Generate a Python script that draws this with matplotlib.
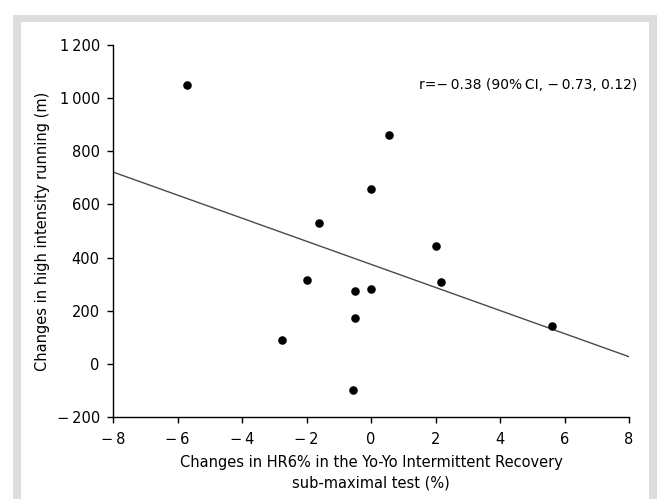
import matplotlib
matplotlib.use("Agg")
import matplotlib.pyplot as plt
from matplotlib import font_manager
from matplotlib.patches import Rectangle
from matplotlib.ticker import FuncFormatter

# data
hr_change = [-5.7, -1.6, -2.0, -0.5, 0.0, -0.5, -2.76, -0.55, 0.55, 0.0, 2.0, 2.18, 5.6]
hir_change = [1050, 531, 315, 273, 283, 174, 89, -97, 860, 658, 444, 309, 142]
fit_x = [-8, 8]
fit_y = [722, 27]
x_ticks = [-8, -6, -4, -2, 0, 2, 4, 6, 8]
y_ticks = [-200, 0, 200, 400, 600, 800, 1000, 1200]
note = "r=\u2212\u20090.38 (90%\u2009CI, \u2212\u20090.73, 0.12)"

installed = {f.name for f in font_manager.fontManager.ttflist}
fam = "Liberation Sans Narrow" if "Liberation Sans Narrow" in installed else "DejaVu Sans"
plt.rcParams["font.family"] = [fam, "DejaVu Sans"]
plt.rcParams["font.size"] = 10.5

W, H = 657, 499
fig = plt.figure(figsize=(W / 100, H / 100), dpi=100)

# grey frame around the white panel
fig.patches.append(Rectangle((13 / W, 0), 1 - 13 / W, 1 - 15 / H,
                             transform=fig.transFigure, facecolor="#dddddd",
                             edgecolor="none", zorder=-2))
fig.patches.append(Rectangle((21 / W, 0), (649 - 21) / W, 1 - 22 / H,
                             transform=fig.transFigure, facecolor="white",
                             edgecolor="none", zorder=-1))

ax = fig.add_axes([113 / W, 1 - 417 / H, (629 - 113) / W, (417 - 45) / H])
ax.patch.set_alpha(0)

ax.plot(fit_x, fit_y, color="#4a4a4a", lw=1.0, zorder=2)
ax.scatter(hr_change, hir_change, s=38, color="black", zorder=3, linewidths=0)

ax.set_xlim(-8, 8)
ax.set_ylim(-200, 1200)
ax.set_xticks(x_ticks)
ax.set_yticks(y_ticks)


def fmt(v, pos):
    v = int(round(v))
    if v < 0:
        return "\u2212\u2009" + str(-v)
    if v >= 1000:
        return str(v)[0] + "\u2009" + str(v)[1:]
    return str(v)


ax.xaxis.set_major_formatter(FuncFormatter(fmt))
ax.yaxis.set_major_formatter(FuncFormatter(fmt))

for side in ["top", "right"]:
    ax.spines[side].set_visible(False)
for side in ["left", "bottom"]:
    ax.spines[side].set_linewidth(1.0)
ax.tick_params(direction="out", length=4, width=1, colors="black")
ax.tick_params(axis="x", pad=6.5)
ax.tick_params(axis="y", pad=5.5)

ax.set_xlabel("Changes in HR6% in the Yo-Yo Intermittent Recovery\nsub-maximal test (%)",
              labelpad=6, linespacing=1.45)
ax.set_ylabel("Changes in high intensity running (m)", labelpad=5)

ax.text(8.25, 1050, note, ha="right", va="center", fontsize=10, clip_on=False)

fig.savefig("out.png", dpi=100)
